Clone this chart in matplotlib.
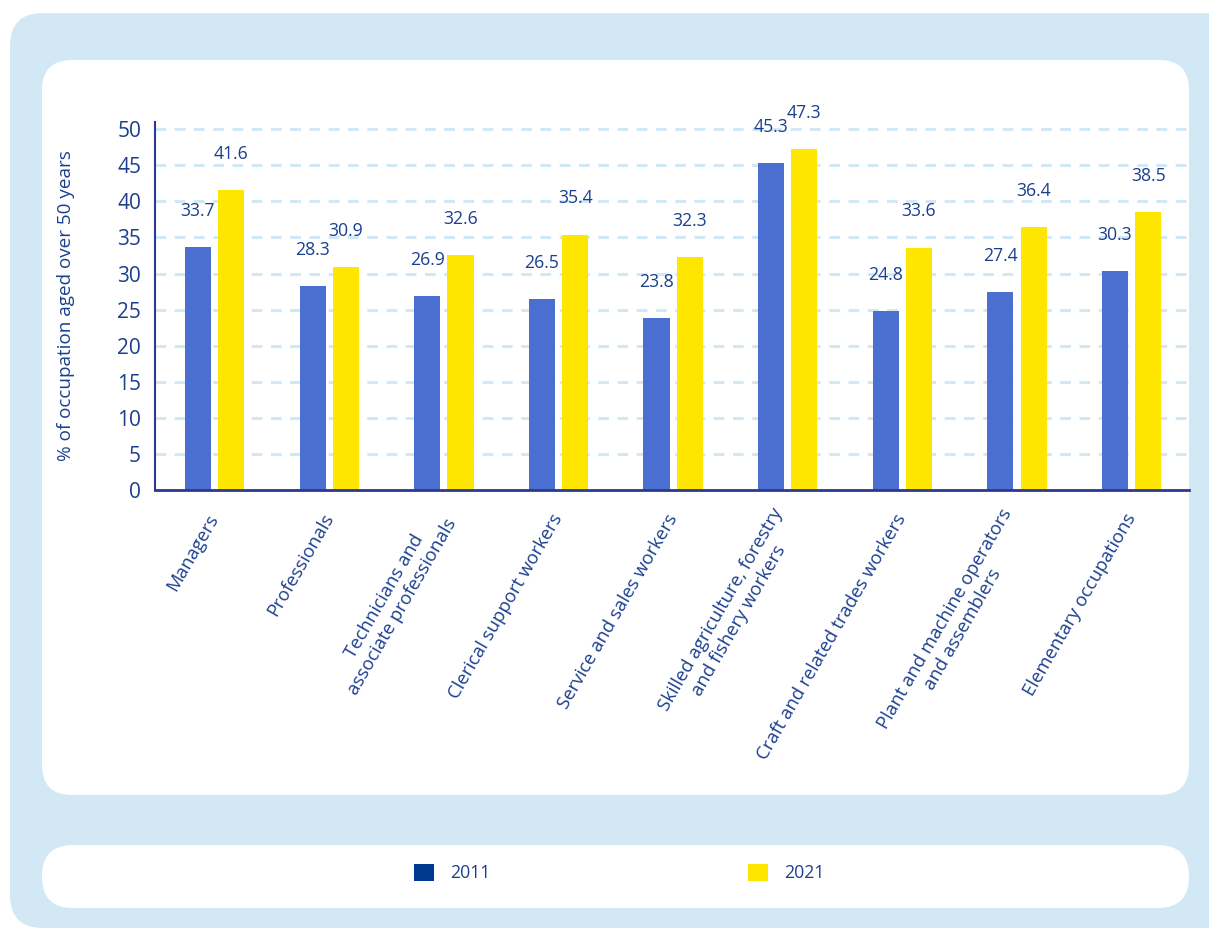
import matplotlib
matplotlib.use("Agg")
import numpy as np
import matplotlib.pyplot as plt
import matplotlib.transforms as mtransforms
from matplotlib.patches import FancyBboxPatch, Patch

plt.rcParams['font.family'] = ['Open Sans', 'DejaVu Sans']

# occupations and share aged over 50 (%)
categories = [
    "Managers",
    "Professionals",
    "Technicians and\nassociate professionals",
    "Clerical support workers",
    "Service and sales workers",
    "Skilled agriculture, forestry\nand fishery workers",
    "Craft and related trades workers",
    "Plant and machine operators\nand assemblers",
    "Elementary occupations",
]
vals_2011 = [33.7, 28.3, 26.9, 26.5, 23.8, 45.3, 24.8, 27.4, 30.3]
vals_2021 = [41.6, 30.9, 32.6, 35.4, 32.3, 47.3, 33.6, 36.4, 38.5]
years = ["2011", "2021"]
yticks = [0, 5, 10, 15, 20, 25, 30, 35, 40, 45, 50]

TXT = "#1b3f8f"
BLUE = "#4a6fd1"
YELLOW = "#ffe600"
NAVY = "#003a8f"
PALE = "#d2e8f5"

W, H = 1209, 930
fig = plt.figure(figsize=(W / 100, H / 100), dpi=100)


def box(x0, y0, x1, y1, r, color, z):
    # rounded panel, pixel coords measured from the top left
    p = FancyBboxPatch((x0 / 100, (H - y1) / 100), (x1 - x0) / 100, (y1 - y0) / 100,
                       boxstyle="round,pad=0,rounding_size=%f" % (r / 100),
                       transform=fig.dpi_scale_trans, facecolor=color,
                       edgecolor="none", zorder=z)
    fig.patches.append(p)


box(10, 13, 1260, 928, 33, PALE, -3)
box(42, 60, 1189, 795, 30, "white", -2)
box(42, 845, 1189, 908, 31, "white", -2)

ax = fig.add_axes([155 / W, 440 / H, (1189 - 155) / W, 368 / H])
ax.patch.set_alpha(0)

x = np.arange(len(categories))
bw = 0.228
off = 0.145
b1 = ax.bar(x - off, vals_2011, bw, color=BLUE, zorder=3)
b2 = ax.bar(x + off, vals_2021, bw, color=YELLOW, zorder=3)

for bars, vals in [(b1, vals_2011), (b2, vals_2021)]:
    for b, v in zip(bars, vals):
        ax.annotate("%.1f" % v, (b.get_x() + b.get_width() / 2, v),
                    xytext=(0, 26), textcoords="offset points",
                    ha="center", va="center", fontsize=12.7, color=TXT)

ax.set_xlim(-0.52, 8.5)
ax.set_ylim(0, 51)
ax.set_yticks(yticks)
ax.set_yticklabels([str(t) for t in yticks], fontsize=15, color=TXT)
for t in yticks[1:]:
    ax.axhline(t, color="#d3e8f7", lw=2.2, ls=(0, (3.5, 2.8)), zorder=1)

ax.set_xticks(x)
ax.set_xticklabels(categories, rotation=60, ha="right", va="center",
                   rotation_mode="anchor", multialignment="center",
                   fontsize=13.3, color=TXT)
shift = mtransforms.ScaledTranslation(-6 / 100, 0, fig.dpi_scale_trans)
for lab in ax.get_xticklabels():
    lab.set_transform(lab.get_transform() + shift)
ax.tick_params(axis="both", length=0)
ax.tick_params(axis="x", pad=18)
ax.tick_params(axis="y", pad=10)

for s in ["top", "right"]:
    ax.spines[s].set_visible(False)
ax.spines["left"].set_color("#2b3990")
ax.spines["left"].set_linewidth(1.5)
ax.spines["bottom"].set_color("#2b3990")
ax.spines["bottom"].set_linewidth(2)
ax.spines["bottom"].set_zorder(4)

ax.set_ylabel("% of occupation aged over 50 years", fontsize=13.6, color=TXT,
              labelpad=30)

handles = [Patch(facecolor=NAVY, edgecolor="none"),
           Patch(facecolor=YELLOW, edgecolor="none")]
fig.legend(handles, years, loc="center", bbox_to_anchor=(619 / W, 57 / H),
           ncol=2, frameon=False, fontsize=12.7, labelcolor=TXT,
           handlelength=1.15, handleheight=1.15, handletextpad=0.9,
           columnspacing=14.6)

fig.savefig("out.png", dpi=100)
